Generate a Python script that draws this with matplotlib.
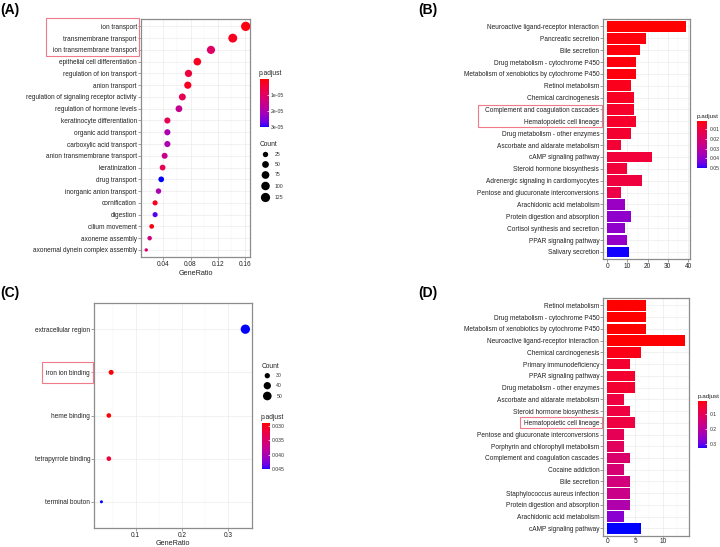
import matplotlib
matplotlib.use('Agg')
import matplotlib.pyplot as plt
import matplotlib.colorbar as mcolorbar
import numpy as np
from matplotlib.colors import ListedColormap, Normalize
from matplotlib.patches import Rectangle

plt.rcParams['font.family'] = ['Liberation Sans', 'DejaVu Sans']

# ---------------- data ----------------
# (A) GO biological process
terms_a = ['ion transport', 'transmembrane transport', 'ion transmembrane transport',
           'epithelial cell differentiation', 'regulation of ion transport', 'anion transport',
           'regulation of signaling receptor activity', 'regulation of hormone levels',
           'keratinocyte differentiation', 'organic acid transport', 'carboxylic acid transport',
           'anion transmembrane transport', 'keratinization', 'drug transport',
           'inorganic anion transport', 'cornification', 'digestion', 'cilium movement',
           'axoneme assembly', 'axonemal dynein complex assembly']
ratio_a = [0.161, 0.142, 0.110, 0.090, 0.077, 0.076, 0.068, 0.063, 0.046, 0.046,
           0.046, 0.042, 0.039, 0.037, 0.033, 0.028, 0.028, 0.023, 0.020, 0.015]
count_a = [129, 114, 88, 72, 62, 61, 54, 50, 37, 37, 37, 34, 31, 30, 26, 22, 22, 18, 16, 12]
padj_a = [0.1e-5, 0.2e-5, 1.0e-5, 0.2e-5, 0.5e-5, 0.2e-5, 0.8e-5, 1.6e-5, 0.8e-5, 2.0e-5,
          2.0e-5, 1.5e-5, 0.8e-5, 3.0e-5, 2.0e-5, 0.2e-5, 2.8e-5, 0.1e-5, 1.3e-5, 1.2e-5]

# (B) KEGG pathways
paths_b = ['Neuroactive ligand-receptor interaction', 'Pancreatic secretion', 'Bile secretion',
           'Drug metabolism - cytochrome P450', 'Metabolism of xenobiotics by cytochrome P450',
           'Retinol metabolism', 'Chemical carcinogenesis', 'Complement and coagulation cascades',
           'Hematopoietic cell lineage', 'Drug metabolism - other enzymes',
           'Ascorbate and aldarate metabolism', 'cAMP signaling pathway',
           'Steroid hormone biosynthesis', 'Adrenergic signaling in cardiomyocytes',
           'Pentose and glucuronate interconversions', 'Arachidonic acid metabolism',
           'Protein digestion and absorption', 'Cortisol synthesis and secretion',
           'PPAR signaling pathway', 'Salivary secretion']
count_b = [39, 19, 16, 14, 14, 12, 13, 13, 14, 12, 7, 22, 10, 17, 7, 9, 12, 9, 10, 11]
padj_b = [0.001, 0.002, 0.002, 0.002, 0.002, 0.004, 0.005, 0.006, 0.006, 0.007,
          0.008, 0.009, 0.009, 0.010, 0.011, 0.038, 0.040, 0.040, 0.039, 0.050]

# (C) GO cellular component / molecular function
terms_c = ['extracellular region', 'iron ion binding', 'heme binding',
           'tetrapyrrole binding', 'terminal bouton']
ratio_c = [0.337, 0.047, 0.042, 0.042, 0.026]
count_c = [56, 29, 28, 28, 26]
padj_c = [0.045, 0.0293, 0.0293, 0.0315, 0.045]

# (D) KEGG pathways
paths_d = ['Retinol metabolism', 'Drug metabolism - cytochrome P450',
           'Metabolism of xenobiotics by cytochrome P450', 'Neuroactive ligand-receptor interaction',
           'Chemical carcinogenesis', 'Primary immunodeficiency', 'PPAR signaling pathway',
           'Drug metabolism - other enzymes', 'Ascorbate and aldarate metabolism',
           'Steroid hormone biosynthesis', 'Hematopoietic cell lineage',
           'Pentose and glucuronate interconversions', 'Porphyrin and chlorophyll metabolism',
           'Complement and coagulation cascades', 'Cocaine addiction', 'Bile secretion',
           'Staphylococcus aureus infection', 'Protein digestion and absorption',
           'Arachidonic acid metabolism', 'cAMP signaling pathway']
count_d = [7, 7, 7, 14, 6, 4, 5, 5, 3, 4, 5, 3, 3, 4, 3, 4, 4, 4, 3, 6]
padj_d = [0.010, 0.010, 0.010, 0.012, 0.025, 0.05, 0.05, 0.05, 0.07, 0.07,
          0.07, 0.10, 0.11, 0.13, 0.14, 0.15, 0.17, 0.22, 0.27, 0.33]

W, H = 720, 547

# ---------------- red -> blue gradient in Lab space (like ggplot) ----------------
M = np.array([[0.4124, 0.3576, 0.1805], [0.2126, 0.7152, 0.0722], [0.0193, 0.1192, 0.9505]])
WHITE = np.array([0.95047, 1.0, 1.08883])


def rgb_to_lab(rgb):
    rgb = np.asarray(rgb, float)
    lin = np.where(rgb <= 0.04045, rgb / 12.92, ((rgb + 0.055) / 1.055) ** 2.4)
    xyz = M @ lin / WHITE
    f = np.where(xyz > 0.008856, np.cbrt(xyz), 7.787 * xyz + 16 / 116)
    return np.array([116 * f[1] - 16, 500 * (f[0] - f[1]), 200 * (f[1] - f[2])])


def lab_to_rgb(lab):
    L, a, b = lab
    fy_ = (L + 16) / 116
    f = np.array([fy_ + a / 500, fy_, fy_ - b / 200])
    xyz = np.where(f ** 3 > 0.008856, f ** 3, (f - 16 / 116) / 7.787) * WHITE
    lin = np.clip(np.linalg.inv(M) @ xyz, 0, 1)
    return np.clip(np.where(lin <= 0.0031308, 12.92 * lin, 1.055 * lin ** (1 / 2.4) - 0.055), 0, 1)


lab_r, lab_b = rgb_to_lab([1, 0, 0]), rgb_to_lab([0, 0, 1])
cmap = ListedColormap([lab_to_rgb(lab_r + t * (lab_b - lab_r)) for t in np.linspace(0, 1, 256)])

fig = plt.figure(figsize=(W / 100, H / 100), dpi=100)


def px_axes(left, top, right, bottom):
    return fig.add_axes([left / W, 1 - bottom / H, (right - left) / W, (bottom - top) / H])


def style_panel(ax, labels, xlim, xticks, xminor, fmt):
    n = len(labels)
    ax.set_xlim(xlim)
    ax.set_xticks(xticks)
    ax.set_xticklabels([fmt % t for t in xticks])
    ax.set_xticks(xminor, minor=True)
    ax.set_yticks(range(n))
    ax.set_yticklabels(labels)
    ax.set_ylim(n - 0.4, -0.6)
    ax.grid(which='major', color='#EBEBEB', lw=0.5)
    ax.grid(which='minor', axis='x', color='#F5F5F5', lw=0.35)
    ax.set_axisbelow(True)
    for sp in ax.spines.values():
        sp.set_color('#8C8C8C')
        sp.set_linewidth(0.9)
    ax.tick_params(which='major', length=2, width=0.4, color='#555555',
                   labelsize=4.7, labelcolor='#222222', pad=1)
    ax.tick_params(which='minor', length=0)


def dot_size(counts, cmin, cmax, dmin, dmax):
    t = np.clip((np.asarray(counts, float) - cmin) / (cmax - cmin), 0, 1)
    d = dmin + (dmax - dmin) * np.sqrt(t)
    return (d * 0.72) ** 2


def colorbar(left, top, right, bottom, vmin, vmax, ticks, fmt, title, tsize=4.8):
    cax = px_axes(left, top, right, bottom)
    cb = mcolorbar.ColorbarBase(cax, cmap=cmap, norm=Normalize(vmin, vmax))
    cax.invert_yaxis()
    cb.set_ticks(ticks)
    cb.set_ticklabels([fmt(t) for t in ticks])
    cb.outline.set_visible(False)
    cax.tick_params(length=1.8, width=0.5, color='white', direction='in',
                    labelsize=3.7, labelcolor='#333333', pad=1.5)
    fig.text((left - 1) / W, 1 - (top - 2) / H, title, fontsize=tsize, color='#222222',
             va='bottom')


def size_legend(ov, x, ytitle, ys, values, sizes):
    ov.text(x - 6, ytitle, 'Count', fontsize=4.8, color='#222222', va='center')
    ov.scatter([x] * len(values), ys, s=sizes, color='black', lw=0)
    for yy, v in zip(ys, values):
        ov.text(x + 9, yy, str(v), fontsize=3.7, color='#333333', va='center')


# ---------------- (A) dot plot ----------------
axA = px_axes(141, 19.3, 250, 257)
dA = (12, 129, 3.4, 9.3)
axA.scatter(ratio_a, range(len(terms_a)), s=dot_size(count_a, *dA), c=padj_a,
            cmap=cmap, vmin=0, vmax=3.0e-5, lw=0, zorder=3)
style_panel(axA, terms_a, (0.0073, 0.1673), [0.04, 0.08, 0.12, 0.16],
            [0.02, 0.06, 0.10, 0.14], '%.2f')
axA.set_xlabel('GeneRatio', fontsize=5.2, color='#222222', labelpad=1)

# ---------------- (B) bar plot ----------------
axB = px_axes(603.3, 19.3, 690, 259)
axB.barh(range(len(paths_b)), count_b, height=0.9,
         color=cmap(Normalize(0.001, 0.0502)(padj_b)), zorder=3)
style_panel(axB, paths_b, (-1.95, 40.95), [0, 10, 20, 30, 40], [5, 15, 25, 35], '%d')

# ---------------- (C) dot plot ----------------
axC = px_axes(94.3, 303.3, 252.3, 527.7)
dC = (26, 56, 3.0, 9.3)
axC.scatter(ratio_c, range(len(terms_c)), s=dot_size(count_c, *dC), c=padj_c,
            cmap=cmap, vmin=0.0292, vmax=0.045, lw=0, zorder=3)
style_panel(axC, terms_c, (0.0106, 0.352), [0.1, 0.2, 0.3], [0.05, 0.15, 0.25], '%.1f')
axC.set_xlabel('GeneRatio', fontsize=5.2, color='#222222', labelpad=1)

# ---------------- (D) bar plot ----------------
axD = px_axes(603.3, 298.3, 689.3, 535.5)
axD.barh(range(len(paths_d)), count_d, height=0.9,
         color=cmap(Normalize(0.010, 0.331)(padj_d)), zorder=3)
style_panel(axD, paths_d, (-0.7, 14.7), [0, 5, 10], [2.5, 7.5, 12.5], '%d')
axD.tick_params(axis='x', which='major', length=1.6, pad=0.5)

# ---------------- legends ----------------
colorbar(259.5, 79.3, 269, 127, 0, 3.0e-5, [1e-5, 2e-5, 3e-5],
         lambda t: '%de-05' % round(t * 1e5), 'p.adjust')
colorbar(697.3, 120.7, 707.3, 168.3, 0.001, 0.0502, [0.01, 0.02, 0.03, 0.04, 0.05],
         lambda t: '%.2f' % t, 'p.adjust', tsize=4.5)
colorbar(262, 423.3, 269.5, 469.3, 0.0292, 0.045, [0.030, 0.035, 0.040, 0.045],
         lambda t: '%.3f' % t, 'p.adjust')
colorbar(698.3, 400.7, 707.3, 448.3, 0.010, 0.331, [0.1, 0.2, 0.3],
         lambda t: '%.1f' % t, 'p.adjust', tsize=4.5)

ov = fig.add_axes([0, 0, 1, 1], zorder=10)
ov.set_xlim(0, W)
ov.set_ylim(H, 0)
ov.axis('off')

legend_a = [25, 50, 75, 100, 125]
size_legend(ov, 265.5, 144, [154.5, 164.5, 175, 186, 197.5], legend_a, dot_size(legend_a, *dA))
legend_c = [30, 40, 50]
size_legend(ov, 267.3, 366, [375.7, 385.7, 396], legend_c, dot_size(legend_c, *dC))

# panel letters
for x, y, lab in [(0, 10, '(A)'), (418, 10, '(B)'), (0, 293, '(C)'), (418, 293, '(D)')]:
    ov.text(x, y, lab, fontsize=10, fontweight='bold', va='center', ha='left')

# highlight boxes
for x0, y0, x1, y1 in [(46, 18.3, 139.3, 55.7), (478.3, 105.3, 602.3, 126.7),
                       (41.7, 362.3, 92.7, 382.7), (520, 417.4, 601.7, 428.1)]:
    ov.add_patch(Rectangle((x0, y0), x1 - x0, y1 - y0, fill=False, ec='#F07A8A', lw=0.8))

fig.savefig('out.png', dpi=100)
